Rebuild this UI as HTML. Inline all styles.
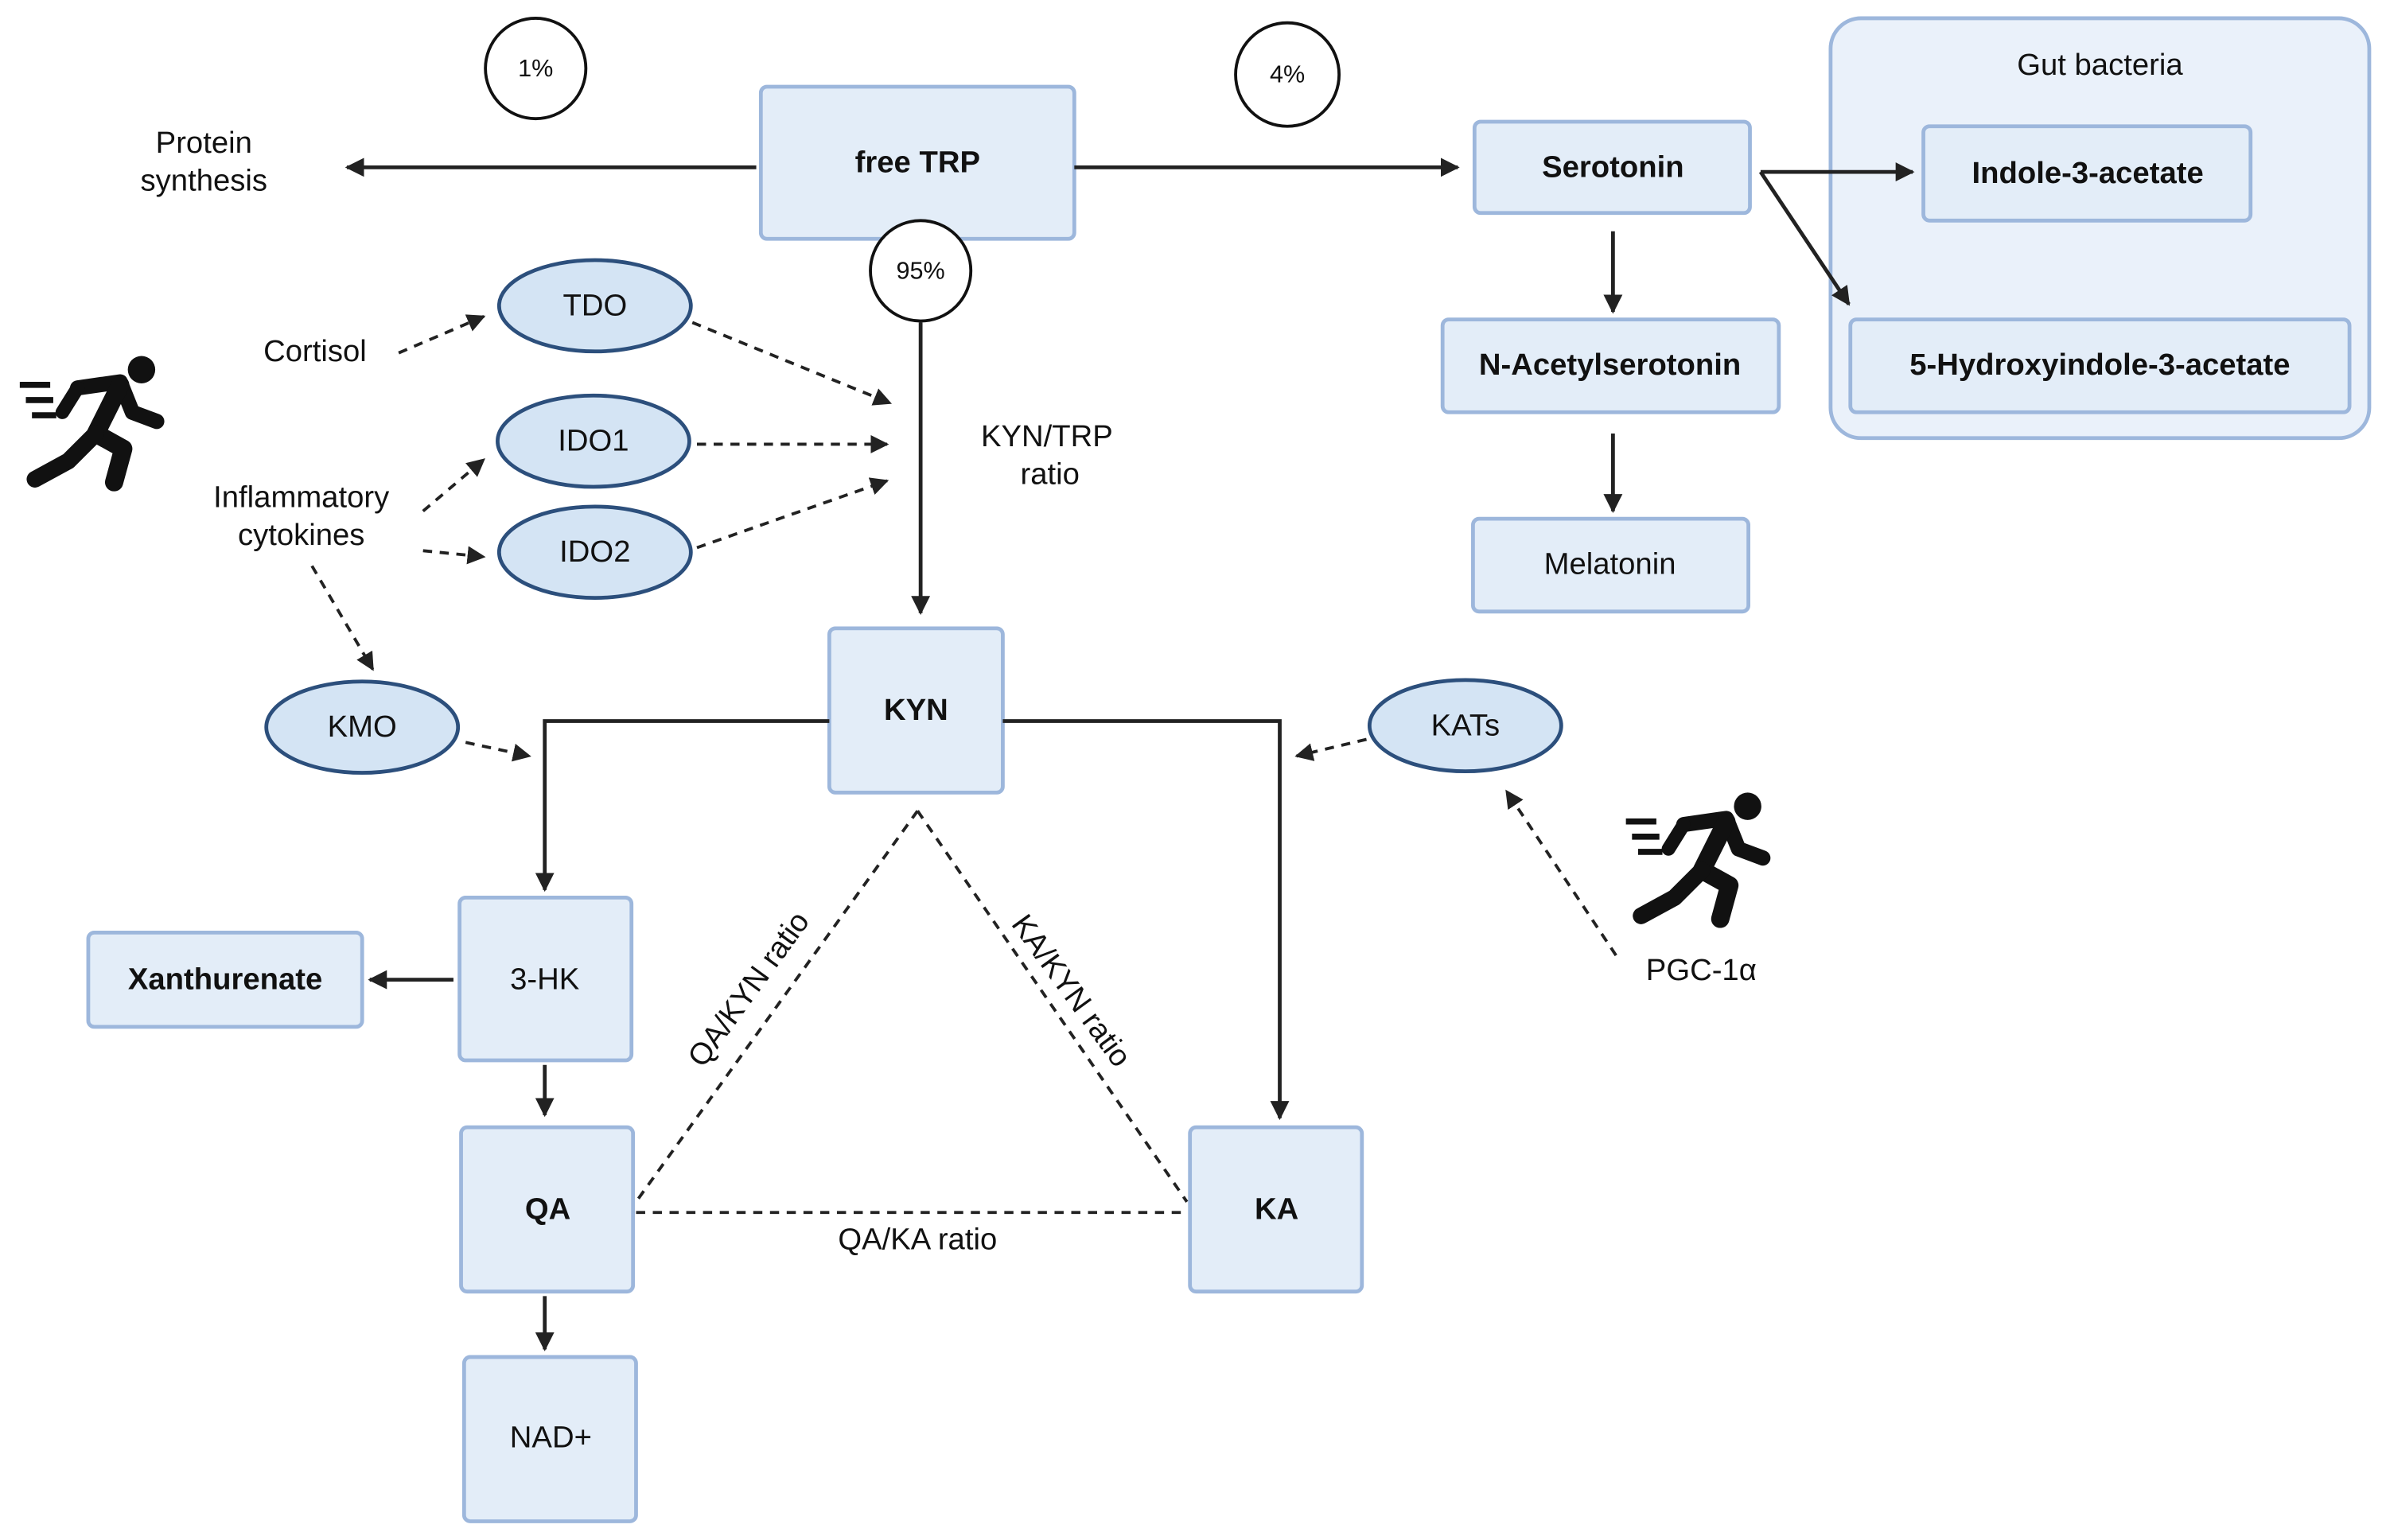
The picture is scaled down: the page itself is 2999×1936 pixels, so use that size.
<!DOCTYPE html>
<html><head><meta charset="utf-8"><style>html,body{margin:0;padding:0;background:#fff}svg{display:block}</style></head>
<body>
<svg width="2999" height="1936" viewBox="0 0 1568 1012.3" preserveAspectRatio="none" xmlns="http://www.w3.org/2000/svg" font-family="Liberation Sans, sans-serif">
<defs>
<marker id="a" viewBox="0 0 10 10" refX="9" refY="5" markerWidth="5" markerHeight="5" orient="auto"><path d="M0,0L10,5L0,10z" fill="#222"/></marker>
<marker id="d" viewBox="0 0 10 10" refX="9" refY="5" markerWidth="6" markerHeight="6" orient="auto"><path d="M0,0L10,5L0,10z" fill="#222"/></marker>
<symbol id="run" viewBox="0 0 100 90">
<circle cx="82" cy="10" r="9" fill="#111"/>
<path d="M40 22 L68 18 L76 38 L92 44" stroke="#111" stroke-width="10" fill="none" stroke-linecap="round" stroke-linejoin="round"/>
<path d="M68 20 L52 52 L70 62 L64 84" stroke="#111" stroke-width="12" fill="none" stroke-linecap="round" stroke-linejoin="round"/>
<path d="M52 52 L34 70 L12 82" stroke="#111" stroke-width="11" fill="none" stroke-linecap="round" stroke-linejoin="round"/>
<path d="M40 22 L30 38" stroke="#111" stroke-width="9" stroke-linecap="round"/>
<path d="M2 20 H22 M6 30 H24 M10 40 H26" stroke="#111" stroke-width="4"/>
</symbol>
</defs>
<g fill="#e3edf8" stroke="#9db7dc" stroke-width="2.5">
<rect x="500" y="57" width="206" height="100" rx="4"/>
<rect x="1203" y="12" width="354" height="276" rx="20" fill="#eaf1fa"/>
<rect x="969" y="80" width="181" height="60" rx="4"/>
<rect x="1264" y="83" width="215" height="62" rx="4"/>
<rect x="1216" y="210" width="328" height="61" rx="4"/>
<rect x="948" y="210" width="221" height="61" rx="4"/>
<rect x="968" y="341" width="181" height="61" rx="4"/>
<rect x="545" y="413" width="114" height="108" rx="4"/>
<rect x="302" y="590" width="113" height="107" rx="4"/>
<rect x="58" y="613" width="180" height="62" rx="4"/>
<rect x="303" y="741" width="113" height="108" rx="4"/>
<rect x="305" y="892" width="113" height="108" rx="4"/>
<rect x="782" y="741" width="113" height="108" rx="4"/>
</g>
<g fill="#d4e4f4" stroke="#2c4f7c" stroke-width="2.5">
<ellipse cx="391" cy="201" rx="63" ry="30"/>
<ellipse cx="390" cy="290" rx="63" ry="30"/>
<ellipse cx="391" cy="363" rx="63" ry="30"/>
<ellipse cx="238" cy="478" rx="63" ry="30"/>
<ellipse cx="963" cy="477" rx="63" ry="30"/>
</g>
<g fill="#fff" stroke="#111" stroke-width="2">
<circle cx="352" cy="45" r="33"/><circle cx="846" cy="49" r="34"/><circle cx="605" cy="178" r="33"/>
</g>
<g stroke="#222" stroke-width="2.5" fill="none" marker-end="url(#a)">
<line x1="497" y1="110" x2="228" y2="110"/>
<line x1="706" y1="110" x2="958" y2="110"/>
<line x1="1157" y1="113" x2="1257" y2="113"/>
<line x1="1157" y1="113" x2="1215" y2="200"/>
<line x1="1060" y1="152" x2="1060" y2="205"/>
<line x1="1060" y1="285" x2="1060" y2="336"/>
<line x1="605" y1="212" x2="605" y2="403"/>
<polyline points="545,474 358,474 358,585"/>
<polyline points="659,474 841,474 841,735"/>
<line x1="298" y1="644" x2="243" y2="644"/>
<line x1="358" y1="700" x2="358" y2="733"/>
<line x1="358" y1="852" x2="358" y2="887"/>
</g>
<g stroke="#222" stroke-width="2" fill="none" stroke-dasharray="6,5" marker-end="url(#d)">
<line x1="262" y1="232" x2="318" y2="208"/>
<line x1="455" y1="212" x2="585" y2="265"/>
<line x1="458" y1="292" x2="583" y2="292"/>
<line x1="458" y1="360" x2="583" y2="316"/>
<line x1="278" y1="336" x2="318" y2="302"/>
<line x1="278" y1="362" x2="318" y2="366"/>
<line x1="205" y1="372" x2="245" y2="440"/>
<line x1="306" y1="488" x2="348" y2="497"/>
<line x1="898" y1="486" x2="852" y2="497"/>
<line x1="1062" y1="628" x2="990" y2="520"/>
</g>
<g stroke="#222" stroke-width="2" fill="none" stroke-dasharray="6,5">
<line x1="603" y1="533" x2="418" y2="790"/>
<line x1="603" y1="533" x2="780" y2="790"/>
<line x1="418" y1="797" x2="780" y2="797"/>
</g>
<use href="#run" x="10" y="233" width="102" height="90"/>
<use href="#run" x="1065" y="520" width="103" height="90"/>
<g font-size="20" fill="#111" text-anchor="middle" dominant-baseline="middle">
<text x="352" y="46" font-size="16">1%</text>
<text x="846" y="50" font-size="16">4%</text>
<text x="605" y="179" font-size="16">95%</text>
<text x="134" y="95">Protein</text><text x="134" y="120">synthesis</text>
<g font-weight="bold">
<text x="603" y="108">free TRP</text>
<text x="1060" y="111">Serotonin</text>
<text x="1372" y="115">Indole-3-acetate</text>
<text x="1380" y="241">5-Hydroxyindole-3-acetate</text>
<text x="1058" y="241">N-Acetylserotonin</text>
<text x="602" y="468">KYN</text>
<text x="148" y="645">Xanthurenate</text>
<text x="360" y="796">QA</text>
<text x="839" y="796">KA</text>
</g>
<text x="1380" y="44">Gut bacteria</text>
<text x="1058" y="372">Melatonin</text>
<text x="391" y="202">TDO</text><text x="390" y="291">IDO1</text><text x="391" y="364">IDO2</text>
<text x="238" y="479">KMO</text><text x="963" y="478">KATs</text>
<text x="207" y="232">Cortisol</text>
<text x="198" y="328">Inflammatory</text><text x="198" y="353">cytokines</text>
<text x="688" y="288">KYN/TRP</text><text x="690" y="313">ratio</text>
<text x="1118" y="639">PGC-1α</text>
<text x="358" y="645">3-HK</text>
<text x="362" y="946">NAD+</text>
<text x="603" y="816">QA/KA ratio</text>
<text transform="translate(493,651) rotate(-54)">QA/KYN ratio</text>
<text transform="translate(703,652) rotate(54)">KA/KYN ratio</text>
</g>
</svg>
</body></html>
